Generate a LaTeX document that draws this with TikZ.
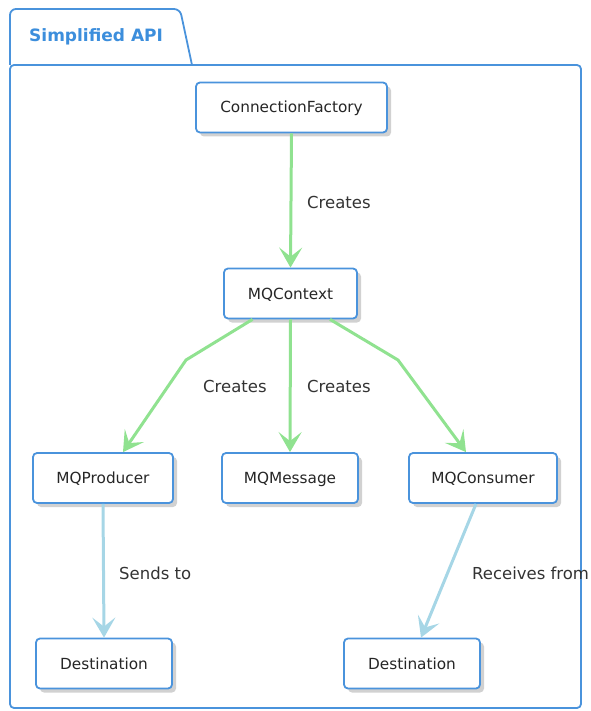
\documentclass[tikz,border=0pt]{standalone}
\usepackage{fontspec}
\setmainfont{DejaVu Sans}
\usetikzlibrary{shadows,arrows.meta}
\definecolor{bord}{HTML}{4A93DC}
\definecolor{ttl}{HTML}{3C8EDC}
\definecolor{grn}{HTML}{90E290}
\definecolor{lblu}{HTML}{A6D6E6}
\definecolor{txt}{HTML}{333333}
\tikzset{
  box/.style={draw=bord, line width=1.8pt, rounded corners=4pt, fill=white,
    minimum height=50pt, inner sep=0pt, text height=11pt, text depth=0pt,
    font=\fontsize{15.3}{18}\selectfont, text=black!85,
    drop shadow={shadow xshift=4pt, shadow yshift=-4pt, fill=black!30, opacity=0.6}},
  garrow/.style={draw=grn, line width=3pt, -{Stealth[length=20pt,width=23pt,inset=9pt]}},
  barrow/.style={draw=lblu, line width=3pt, -{Stealth[length=20pt,width=23pt,inset=9pt]}},
  lbl/.style={font=\fontsize{16.5}{19}\selectfont, text=txt, inner sep=0pt, anchor=west},
}
\begin{document}
\begin{tikzpicture}[x=1pt,y=-1pt]
\useasboundingbox (0,0) rectangle (590,711);
% package frame
\draw[bord, line width=1.8pt, rounded corners=4pt] (10,65) -- (10,708) -- (581,708) -- (581,65) -- cycle;
\draw[bord, line width=1.8pt, rounded corners=6pt] (10,65) -- (10,9) -- (180,9) -- (192,65);
\node[font=\bfseries\fontsize{17}{20}\selectfont, text=ttl, anchor=west, inner sep=0pt] (title) at (29,37) {Simplified API};
% nodes
\node[box, minimum width=191pt] (cf) at (291.5,107.5) {ConnectionFactory};
\node[box, minimum width=133pt] (ctx) at (290.5,293.5) {MQContext};
\node[box, minimum width=140pt] (prod) at (103,478) {MQProducer};
\node[box, minimum width=136pt] (msg) at (290,478) {MQMessage};
\node[box, minimum width=148pt] (cons) at (483,478) {MQConsumer};
\node[box, minimum width=136pt] (d1) at (104,663.5) {Destination};
\node[box, minimum width=136pt] (d2) at (412,663.5) {Destination};
% bend points
\coordinate (bl) at (186,360);
\coordinate (br) at (398,360);
% edges
\draw[garrow] (cf.south) -- (ctx.north);
\draw[garrow] ([xshift=-38pt]ctx.south) -- (bl) -- ([xshift=20pt]prod.north);
\draw[garrow] (ctx.south) -- (msg.north);
\draw[garrow] ([xshift=39.5pt]ctx.south) -- (br) -- ([xshift=-17pt]cons.north);
\draw[barrow] (prod.south) -- (d1.north);
\draw[barrow] ([xshift=-7pt]cons.south) -- ([xshift=9pt]d2.north);
% labels
\node[lbl] (l1) at (307,202) {Creates};
\node[lbl] (l2) at (203,386) {Creates};
\node[lbl] (l3) at (307,386) {Creates};
\node[lbl] (l4) at (119,573) {Sends to};
\node[lbl] (l5) at (472,573) {Receives from};
\end{tikzpicture}
\end{document}
